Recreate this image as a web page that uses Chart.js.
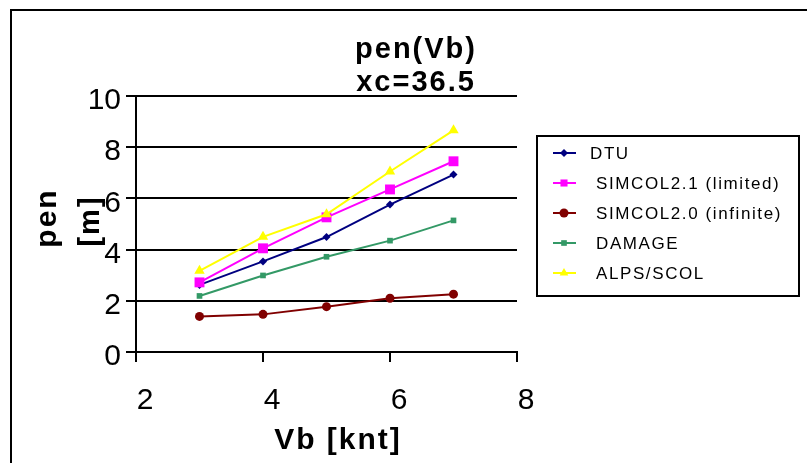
<!DOCTYPE html>
<html>
<head>
<meta charset="utf-8">
<script src="https://cdn.jsdelivr.net/npm/chart.js@4.4.1/dist/chart.umd.min.js"></script>
<style>
  body { margin: 0; background: #fff; }
  canvas { display: block; }
</style>
</head>
<body>
<canvas id="penChart" width="807" height="463"></canvas>
<script>
// Values
const vb = [3, 4, 5, 6, 7];
const dtu = [2.62, 3.54, 4.49, 5.76, 6.93];
const simcol21 = [2.72, 4.05, 5.26, 6.35, 7.45];
const simcol20 = [1.39, 1.47, 1.77, 2.10, 2.26];
const damage = [2.19, 2.99, 3.72, 4.35, 5.14];
const alps = [3.17, 4.50, 5.38, 7.05, 8.66];

const seriesNames = ['DTU', 'SIMCOL2.1 (limited)', 'SIMCOL2.0 (infinite)', 'DAMAGE', 'ALPS/SCOL'];
const titleLines = ['pen(Vb)', 'xc=36.5'];
const yTitleLines = ['pen', '[m]'];
const xTitle = 'Vb [knt]';

const FONT = '"Liberation Sans", Arial, sans-serif';

function points(values) {
    return vb.map((x, i) => ({ x: x, y: values[i] }));
}

const styles = [
    { color: '#000080', pointStyle: 'rectRot', radius: 4 },
    { color: '#FF00FF', pointStyle: 'rect', radius: 7 },
    { color: '#800000', pointStyle: 'circle', radius: 4.5 },
    { color: '#339966', pointStyle: 'rect', radius: 4 },
    { color: '#FFFF00', pointStyle: 'triangle', radius: 6 }
];

const allValues = [dtu, simcol21, simcol20, damage, alps];

const datasets = allValues.map((vals, i) => ({
    label: seriesNames[i],
    data: points(vals),
    borderColor: styles[i].color,
    backgroundColor: styles[i].color,
    borderWidth: 2,
    pointStyle: styles[i].pointStyle,
    pointRadius: styles[i].radius,
    pointBorderWidth: 0,
    tension: 0,
    order: allValues.length - i // later series drawn on top
}));

// Frame, titles and legend box
const decorPlugin = {
    id: 'decor',
    beforeDraw(chart) {
        const ctx = chart.ctx;
        ctx.save();
        ctx.fillStyle = '#fff';
        ctx.fillRect(0, 0, chart.width, chart.height);
        ctx.restore();
    },
    afterDraw(chart) {
        const ctx = chart.ctx;
        ctx.save();

        // outer frame (runs off the right and bottom)
        ctx.strokeStyle = '#000';
        ctx.lineWidth = 2;
        ctx.strokeRect(11, 10, 900, 600);

        // chart title
        ctx.fillStyle = '#000';
        ctx.font = 'bold 29px ' + FONT;
        ctx.letterSpacing = '2px';
        ctx.textAlign = 'center';
        ctx.textBaseline = 'alphabetic';
        ctx.fillText(titleLines[0], 416, 58);
        ctx.fillText(titleLines[1], 416, 91);

        // x axis title
        ctx.font = 'bold 30px ' + FONT;
        ctx.fillText(xTitle, 338, 449);

        // y axis title, rotated
        ctx.save();
        ctx.rotate(-Math.PI / 2);
        ctx.font = 'bold 30px ' + FONT;
        ctx.fillText(yTitleLines[0], -218, 56);
        ctx.font = 'bold 29px ' + FONT;
        ctx.fillText(yTitleLines[1], -221, 99);
        ctx.restore();

        // legend
        const box = { left: 537, top: 136, right: 799, bottom: 296 };
        ctx.lineWidth = 2;
        ctx.strokeRect(box.left, box.top, box.right - box.left, box.bottom - box.top);
        ctx.font = '17px ' + FONT;
        ctx.letterSpacing = '1.6px';
        ctx.textAlign = 'left';
        ctx.textBaseline = 'middle';
        chart.data.datasets.forEach((ds, i) => {
            const y = 153 + i * 30;
            ctx.strokeStyle = ds.borderColor;
            ctx.lineWidth = 2;
            ctx.beginPath();
            ctx.moveTo(553, y);
            ctx.lineTo(576, y);
            ctx.stroke();
            ctx.fillStyle = ds.backgroundColor;
            Chart.helpers.drawPoint(ctx, {
                pointStyle: ds.pointStyle,
                radius: Math.min(ds.pointRadius, 5),
                rotation: 0,
                borderWidth: 0
            }, 564, y);
            ctx.fillStyle = '#000';
            ctx.fillText(ds.label, i === 0 ? 590 : 596, y + 1);
        });

        ctx.restore();
    }
};

new Chart(document.getElementById('penChart'), {
    type: 'line',
    data: { datasets: datasets },
    options: {
        responsive: false,
        animation: false,
        devicePixelRatio: 1,
        layout: { padding: { top: 96, right: 290, bottom: 0, left: 0 } },
        plugins: {
            legend: { display: false },
            tooltip: { enabled: false },
            title: { display: false }
        },
        scales: {
            x: {
                type: 'linear',
                min: 2,
                max: 8,
                ticks: {
                    stepSize: 2,
                    color: '#000',
                    font: { family: FONT, size: 30 },
                    labelOffset: 9,
                    padding: 21
                },
                grid: {
                    drawOnChartArea: false,
                    drawTicks: true,
                    tickLength: 10,
                    color: '#000',
                    lineWidth: 2
                },
                border: { display: true, color: '#000', width: 2 },
                afterFit(scale) { scale.height = 111; }
            },
            y: {
                min: 0,
                max: 10,
                ticks: {
                    stepSize: 2,
                    color: '#000',
                    font: { family: FONT, size: 30 },
                    labelOffset: 5,
                    padding: 5
                },
                grid: {
                    drawTicks: true,
                    tickLength: 10,
                    color: '#000',
                    lineWidth: 2
                },
                border: { display: true, color: '#000', width: 2 },
                afterFit(scale) { scale.width = 136; }
            }
        }
    },
    plugins: [decorPlugin]
});
</script>
</body>
</html>
